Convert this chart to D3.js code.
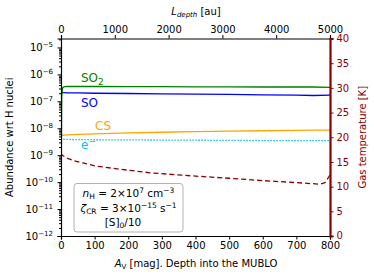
<!DOCTYPE html>
<html>
<head>
<meta charset="utf-8">
<script src="https://cdn.jsdelivr.net/npm/d3@7"></script>
<style>
  body { margin: 0; background: #fff; }
  text { font-family: "DejaVu Sans", sans-serif; }
</style>
</head>
<body>
<div id="chart"></div>
<script>
// visual extinction grid [mag]
const av = [0, 0.5, 1, 2, 5, 10, 20, 50, 100, 200, 300, 400, 500, 600, 700, 750, 800];
// abundances wrt H nuclei
const so2 = [1e-14, 1e-11, 1e-9, 1.5e-7, 3.2e-7, 3.5e-7, 3.55e-7, 3.55e-7, 3.55e-7, 3.5e-7, 3.5e-7, 3.45e-7, 3.45e-7, 3.4e-7, 3.4e-7, 3.4e-7, 3.3e-7];
const so  = [1e-14, 1e-10, 2.1e-7, 2.1e-7, 2.1e-7, 2.1e-7, 2.05e-7, 2.05e-7, 2.0e-7, 1.95e-7, 1.9e-7, 1.85e-7, 1.8e-7, 1.75e-7, 1.7e-7, 1.65e-7, 1.7e-7];
const cs  = [1e-14, 1e-11, 5.4e-9, 5.4e-9, 5.5e-9, 5.6e-9, 5.7e-9, 5.9e-9, 6.2e-9, 6.7e-9, 7.1e-9, 7.5e-9, 7.8e-9, 8.1e-9, 8.4e-9, 8.5e-9, 8.5e-9];
const elec = [1e-14, 1e-10, 4.0e-9, 3.9e-9, 3.9e-9, 3.9e-9, 3.85e-9, 3.8e-9, 3.75e-9, 3.7e-9, 3.65e-9, 3.6e-9, 3.55e-9, 3.5e-9, 3.5e-9, 3.45e-9, 3.5e-9];
// gas temperature [K]
const avT = [0, 1, 2, 5, 10, 20, 40, 65, 100, 167, 265, 384, 500, 582, 701, 770, 785, 794, 800];
const tGas = [80, 16.8, 16.5, 16.3, 16.1, 15.7, 15.2, 14.8, 14.2, 13.6, 12.8, 12.2, 11.7, 11.3, 10.8, 10.5, 10.8, 11.7, 12.4];

const xTicks = [0, 100, 200, 300, 400, 500, 600, 700, 800];
const topTicks = [0, 1000, 2000, 3000, 4000, 5000];
const tTicks = [0, 5, 10, 15, 20, 25, 30, 35, 40];
const decades = [-12, -11, -10, -9, -8, -7, -6, -5];

const W = 374, H = 280;
const m = {left: 61, right: 330, top: 38.5, bottom: 236};

const svg = d3.select("#chart").append("svg").attr("width", W).attr("height", H);

const x = d3.scaleLinear().domain([0, 800]).range([m.left, m.right]);
const xTop = d3.scaleLinear().domain([0, 5000]).range([m.left, m.right]);
const y = d3.scaleLog().domain([1e-12, Math.pow(10, -4.667)]).range([m.bottom, m.top]);
const yT = d3.scaleLinear().domain([0, 40]).range([m.bottom, m.top]);

svg.append("clipPath").attr("id", "clip").append("rect")
  .attr("x", m.left).attr("y", m.top).attr("width", m.right - m.left).attr("height", m.bottom - m.top);

const plot = svg.append("g").attr("clip-path", "url(#clip)");

const line = d3.line().x((d, i) => x(av[i])).y(d => y(d));
const series = [
  {v: elec, color: "#00bfff", dash: "1.5,1.5"},
  {v: cs, color: "#ffa500", dash: null},
  {v: so, color: "#0000ff", dash: null},
  {v: so2, color: "#008000", dash: null}
];
series.forEach(s => {
  plot.append("path").datum(s.v).attr("d", line)
    .attr("fill", "none").attr("stroke", s.color).attr("stroke-width", 1.3)
    .attr("stroke-dasharray", s.dash);
});

const tLine = d3.line().x((d, i) => x(avT[i])).y(d => yT(d));
plot.append("path").datum(tGas).attr("d", tLine)
  .attr("fill", "none").attr("stroke", "#8b0000").attr("stroke-width", 1.3)
  .attr("stroke-dasharray", "5,3");

// axes
const fs = 10;
const gx = svg.append("g").attr("transform", `translate(0,${m.bottom})`)
  .call(d3.axisBottom(x).tickValues(xTicks).tickSize(3.5).tickPadding(2).tickFormat(d3.format("d")));
const gxt = svg.append("g").attr("transform", `translate(0,${m.top})`)
  .call(d3.axisTop(xTop).tickValues(topTicks).tickSize(3.5).tickPadding(2).tickFormat(d3.format("d")));

const minor = [];
decades.forEach(d => { if (d < -5) for (let k = 2; k <= 9; k++) minor.push(k * Math.pow(10, d)); });
minor.push(2e-5);
svg.append("g").attr("transform", `translate(${m.left},0)`)
  .call(d3.axisLeft(y).tickValues(minor).tickSize(2).tickFormat(""))
  .call(g => g.select(".domain").remove());
const gy = svg.append("g").attr("transform", `translate(${m.left},0)`)
  .call(d3.axisLeft(y).tickValues(decades.map(d => Math.pow(10, d))).tickSize(3.5).tickFormat(""));
gy.select(".domain").attr("stroke-width", 1.2);

const gyr = svg.append("g").attr("transform", `translate(${m.right},0)`)
  .call(d3.axisRight(yT).tickValues(tTicks).tickSize(3.5).tickPadding(3));
gyr.selectAll("line").attr("stroke", "#8b0000").attr("stroke-width", 1);
gyr.select(".domain").attr("stroke", "#8b0000").attr("stroke-width", 2.2);
gyr.selectAll("text").attr("fill", "#8b0000");
gyr.selectAll(".tick").filter(d => d === 0).select("text").attr("dy", "0.2em");

[gx, gxt, gyr].forEach(g => g.selectAll("text").attr("font-size", fs).attr("font-family", "DejaVu Sans"));
gx.select(".domain").attr("stroke-width", 1.2);
gxt.select(".domain").attr("stroke-width", 1.2);

// log tick labels 10^n
decades.forEach(d => {
  const t = svg.append("text").attr("x", 53).attr("y", y(Math.pow(10, d)) + 4)
    .attr("text-anchor", "end").attr("font-size", fs);
  t.append("tspan").text("10");
  t.append("tspan").attr("dy", -4).attr("font-size", 7).text("\u2212" + (-d));
});

// axis labels
svg.append("text").attr("transform", `translate(13,${(m.top + m.bottom) / 2}) rotate(-90)`)
  .attr("text-anchor", "middle").attr("font-size", fs).text("Abundance wrt H nuclei");
svg.append("text").attr("transform", `translate(366,${(m.top + m.bottom) / 2}) rotate(-90)`)
  .attr("text-anchor", "middle").attr("font-size", fs).attr("fill", "#8b0000").text("Gas temperature [K]");

const xl = svg.append("text").attr("x", 196).attr("y", 267).attr("text-anchor", "middle").attr("font-size", fs);
xl.append("tspan").attr("font-style", "italic").text("A");
xl.append("tspan").attr("dy", 2).attr("font-size", 7).text("V");
xl.append("tspan").attr("dy", -2).text(" [mag]. Depth into the MUBLO");

const tl = svg.append("text").attr("x", 196).attr("y", 15).attr("text-anchor", "middle").attr("font-size", fs);
tl.append("tspan").attr("font-style", "italic").text("L");
tl.append("tspan").attr("dy", 2).attr("font-size", 7).attr("font-style", "italic").text("depth");
tl.append("tspan").attr("dy", -2).text(" [au]");

// species labels
const lab = (xx, yy, color, parts) => {
  const t = svg.append("text").attr("x", xx).attr("y", yy).attr("font-size", 12).attr("fill", color);
  parts.forEach(p => t.append("tspan").attr("dy", p[1]).attr("font-size", p[2] || 12).text(p[0]));
};
lab(81, 82, "#008000", [["SO", 0], ["2", 3, 9]]);
lab(81, 107, "#0000ff", [["SO", 0]]);
lab(95, 130, "#ffa500", [["CS", 0]]);
lab(81, 149, "#00bfff", [["e", 0], ["\u2212", -5, 9]]);

// info box
svg.append("rect").attr("x", 74).attr("y", 183.5).attr("width", 109).attr("height", 48.5).attr("rx", 3)
  .attr("fill", "#fff").attr("fill-opacity", 0.8).attr("stroke", "#aaaaaa").attr("stroke-width", 0.9);

const l1 = svg.append("text").attr("x", 128.5).attr("y", 197).attr("text-anchor", "middle").attr("font-size", 10.5);
l1.append("tspan").attr("font-style", "italic").text("n");
l1.append("tspan").attr("dy", 2).attr("font-size", 7.5).text("H");
l1.append("tspan").attr("dy", -2).text(" = 2\u00d710");
l1.append("tspan").attr("dy", -4).attr("font-size", 7.5).text("7");
l1.append("tspan").attr("dy", 4).text(" cm");
l1.append("tspan").attr("dy", -4).attr("font-size", 7.5).text("\u22123");

const l2 = svg.append("text").attr("x", 128.5).attr("y", 211.5).attr("text-anchor", "middle").attr("font-size", 10.5);
l2.append("tspan").attr("font-style", "italic").text("\u03b6");
l2.append("tspan").attr("dy", 2).attr("font-size", 7.5).text("CR");
l2.append("tspan").attr("dy", -2).text(" = 3\u00d710");
l2.append("tspan").attr("dy", -4).attr("font-size", 7.5).text("\u221215");
l2.append("tspan").attr("dy", 4).text(" s");
l2.append("tspan").attr("dy", -4).attr("font-size", 7.5).text("\u22121");

const l3 = svg.append("text").attr("x", 123).attr("y", 226).attr("text-anchor", "middle").attr("font-size", 10.5);
l3.append("tspan").text("[S]");
l3.append("tspan").attr("dy", 2).attr("font-size", 7.5).text("0");
l3.append("tspan").attr("dy", -2).text("/10");
</script>
</body>
</html>
